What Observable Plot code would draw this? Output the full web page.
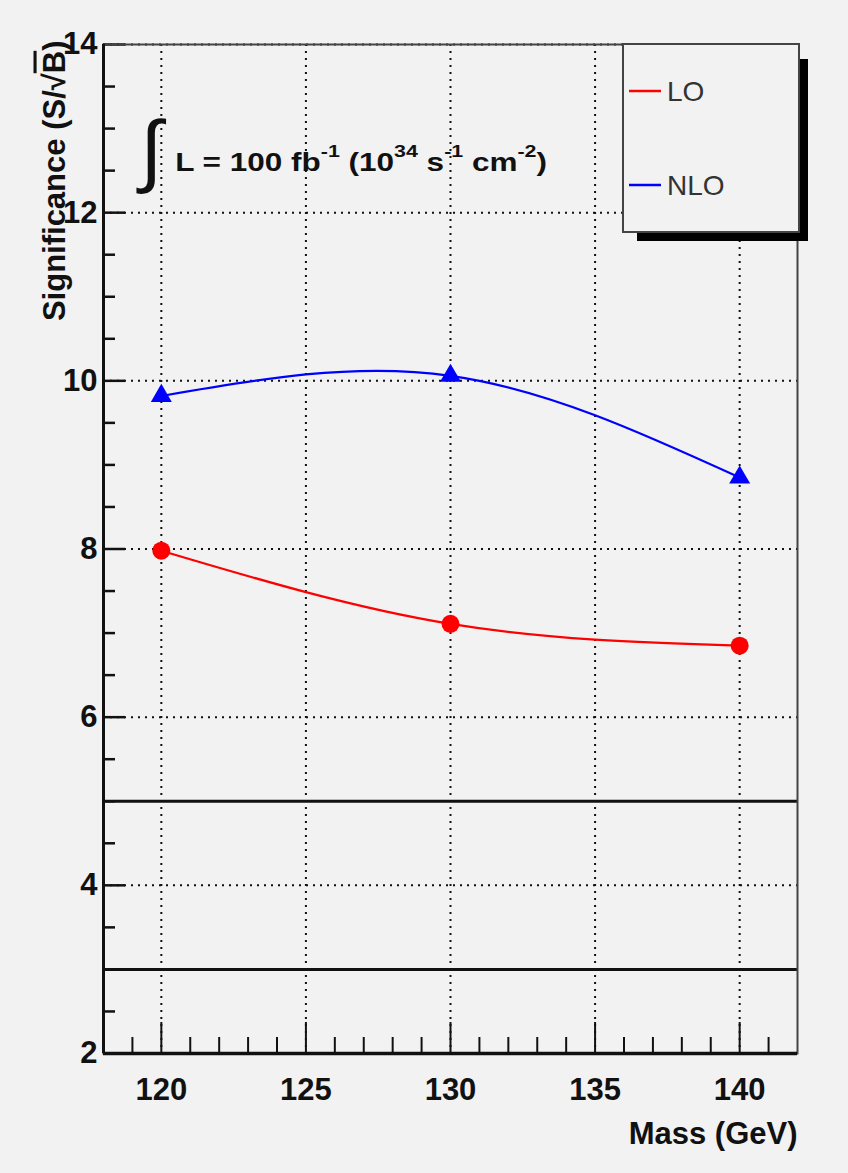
<!DOCTYPE html>
<html>
<head>
<meta charset="utf-8">
<script src="https://cdn.jsdelivr.net/npm/d3@7"></script>
<script src="https://cdn.jsdelivr.net/npm/@observablehq/plot@0.6"></script>
<style>
  html, body { margin: 0; padding: 0; background: #f2f2f2; }
  #wrap { position: relative; width: 848px; height: 1173px; overflow: hidden; }
  #edge { position: absolute; left: 14px; top: 0; width: 4px; height: 1173px; background: #fff; }
  #wrap svg { position: absolute; left: 0; top: 0; display: block; }
</style>
</head>
<body>
<div id="wrap"><div id="edge"></div></div>
<script>
// Signal significance versus Higgs mass, LO and NLO
const masses = [120, 130, 140];
const loSignificance = [7.98, 7.11, 6.85];
const nloSignificance = [9.82, 10.06, 8.85];
const seriesNames = ["LO", "NLO"];
const seriesColors = ["#ff0000", "#0000ff"];
const xTicks = [120, 125, 130, 135, 140];
const yTicks = [2, 4, 6, 8, 10, 12, 14];
const thresholds = [5, 3];
const xDomain = [118, 142];
const yDomain = [2, 14];
const xTitle = "Mass (GeV)";
const yTitle = "Significance (S/√B)";
// luminosity note: plain runs and superscripts
const lumiParts = [
  {t: "L = 100 fb"}, {t: "-1", sup: true}, {t: " (10"}, {t: "34", sup: true},
  {t: " s"}, {t: "-1", sup: true}, {t: " cm"}, {t: "-2", sup: true}, {t: ")"}
];
const lumiPlain = lumiParts.map(p => p.t).join("");

const rows = masses.map((m, i) => ({mass: m, lo: loSignificance[i], nlo: nloSignificance[i]}));
const xMinor = d3.range(119, 142, 1).filter(v => v % 5 !== 0);
const yMinor = d3.range(2.5, 14, 0.5).filter(v => v % 2 !== 0);

const W = 848, H = 1173, mL = 103, mR = 51, mT = 44, mB = 120;
const pw = W - mL - mR, ph = H - mT - mB;
const font = "'Liberation Sans', Arial, Helvetica, sans-serif";
const grid = {stroke: "#111", strokeWidth: 2, strokeDasharray: "2,5"};

const chart = Plot.plot({
  width: W, height: H,
  marginLeft: mL, marginRight: mR, marginTop: mT, marginBottom: mB,
  style: {background: "#f2f2f2", fontFamily: font, color: "#111", overflow: "visible"},
  x: {domain: xDomain},
  y: {domain: yDomain},
  marks: [
    Plot.ruleX(xTicks, grid),
    Plot.ruleY(yTicks, grid),
    Plot.ruleY(thresholds, {stroke: "#111", strokeWidth: 3}),
    // inward ticks
    Plot.ruleX(xMinor, {insetTop: ph - 16, stroke: "#111", strokeWidth: 2}),
    Plot.ruleX(xTicks, {insetTop: ph - 31, stroke: "#111", strokeWidth: 2}),
    Plot.ruleY(yMinor, {insetRight: pw - 12, stroke: "#111", strokeWidth: 2.5}),
    Plot.ruleY(yTicks, {insetRight: pw - 22, stroke: "#111", strokeWidth: 2.5}),
    Plot.frame({stroke: "#444", strokeWidth: 2}),
    Plot.ruleX([xDomain[0]], {stroke: "#111", strokeWidth: 3}),
    Plot.ruleY([yDomain[0]], {stroke: "#111", strokeWidth: 3.5}),
    Plot.axisX(xTicks, {tickSize: 0, tickPadding: 24, fontSize: 31, fontWeight: "bold",
      tickFormat: d => String(d), label: null}),
    Plot.axisY(yTicks, {tickSize: 0, tickPadding: 6, fontSize: 31, fontWeight: "bold",
      tickFormat: d => String(d), label: null}),
    // series
    Plot.line(rows, {x: "mass", y: "lo", curve: "natural", stroke: seriesColors[0], strokeWidth: 2.2}),
    Plot.line(rows, {x: "mass", y: "nlo", curve: "natural", stroke: seriesColors[1], strokeWidth: 2.2}),
    Plot.dot(rows, {x: "mass", y: "lo", r: 9, fill: seriesColors[0], stroke: null}),
    Plot.dot(rows, {x: "mass", y: "nlo", r: 7.8, symbol: "triangle", fill: seriesColors[1], stroke: null}),
    // titles
    Plot.text([yTitle], {frameAnchor: "top-left", rotate: -90, textAnchor: "end", lineAnchor: "bottom",
      dx: -39, dy: -4, fontSize: 31, fontWeight: "bold", fill: "#111"}),
    Plot.text([xTitle], {frameAnchor: "bottom-right", textAnchor: "end", lineAnchor: "bottom",
      dy: 90, fontSize: 31, fontWeight: "bold", fill: "#111"}),
    // luminosity note
    Plot.text(["∫"], {x: 119.28, y: 12.42, textAnchor: "start", lineAnchor: "bottom",
      fontSize: 80, fill: "#111"}),
    Plot.text([lumiPlain], {x: 120.48, y: 12.5, textAnchor: "start", lineAnchor: "bottom",
      fontSize: 25, fontWeight: "bold", fill: "#111"})
  ]
});

const svg = d3.select(chart);

// superscripts in the luminosity note
svg.selectAll("text").filter(function() { return this.textContent === lumiPlain; }).each(function() {
  const t = d3.select(this);
  t.text(null);
  t.attr("transform", (t.attr("transform") || "") + " scale(1.26,1)");
  let raised = false;
  lumiParts.forEach(p => {
    const s = t.append("tspan").text(p.t);
    if (p.sup && !raised) { s.attr("dy", -14); raised = true; }
    else if (!p.sup && raised) { s.attr("dy", 14); raised = false; }
    if (p.sup) s.attr("font-size", 17);
  });
});

// radical over B in the y title
svg.selectAll("text").filter(function() { return this.textContent === yTitle; }).each(function() {
  const t = d3.select(this);
  t.text(null);
  t.append("tspan").text("Significance (S/√");
  t.append("tspan").style("text-decoration", "overline").text("B");
  t.append("tspan").text(")");
});

// legend box with drop shadow
const box = {x: 623, y: 44, w: 176, h: 188, shadow: 9};
const lg = svg.append("g").attr("font-family", font).attr("text-anchor", "start");
lg.append("rect").attr("x", box.x + 14).attr("y", box.y + 15)
  .attr("width", box.w - 14 + box.shadow).attr("height", box.h - 15 + box.shadow).attr("fill", "#000");
lg.append("rect").attr("x", box.x).attr("y", box.y).attr("width", box.w).attr("height", box.h)
  .attr("fill", "#f2f2f2").attr("stroke", "#444").attr("stroke-width", 2);
seriesNames.forEach((name, i) => {
  const cy = box.y + box.h * (2 * i + 1) / 4;
  lg.append("line").attr("x1", box.x + 6).attr("x2", box.x + 38).attr("y1", cy).attr("y2", cy)
    .attr("stroke", seriesColors[i]).attr("stroke-width", 2.5);
  lg.append("text").attr("x", box.x + 44).attr("y", cy + 10).attr("font-size", 28)
    .attr("fill", "#333").text(name);
});

document.getElementById("wrap").appendChild(chart);
</script>
</body>
</html>
